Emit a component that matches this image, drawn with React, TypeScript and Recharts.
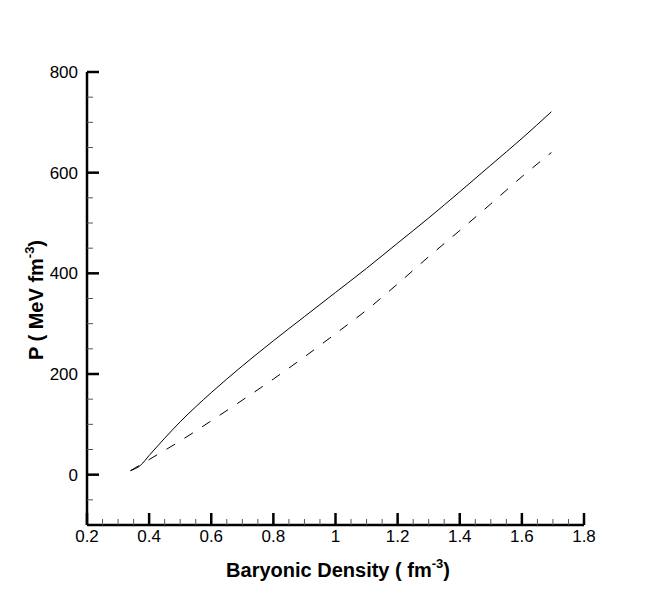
import { Label, Line, LineChart, XAxis, YAxis } from "recharts";

// baryonic density (fm^-3) and pressure (MeV fm^-3)
const density = [0.34, 0.373, 0.4, 0.5, 0.6, 0.7, 0.8, 0.9, 1.0, 1.1, 1.2, 1.3, 1.4, 1.5, 1.6, 1.695];
const pressureSolid = [8, 19, 38, 105, 163, 216, 266, 314, 362, 410, 460, 510, 562, 615, 668, 721];
const pressureDashed = [8, 20, 30, 67, 107, 148, 190, 234, 280, 327, 379, 433, 485, 538, 592, 640];

const xMajor = [0.2, 0.4, 0.6, 0.8, 1, 1.2, 1.4, 1.6, 1.8];
const xMinor = [
  0.25, 0.3, 0.35, 0.45, 0.5, 0.55, 0.65, 0.7, 0.75, 0.85, 0.9, 0.95, 1.05, 1.1, 1.15, 1.25, 1.3, 1.35,
  1.45, 1.5, 1.55, 1.65, 1.7, 1.75,
];
const yMajor = [0, 200, 400, 600, 800];
const yMinor = [-50, 50, 100, 150, 250, 300, 350, 450, 500, 550, 650, 700, 750];

const data = density.map((d, i) => ({ d, solid: pressureSolid[i], dashed: pressureDashed[i] }));

const font = "'Liberation Sans', Arial, Helvetica, sans-serif";

function isMajor(list: number[], v: number) {
  return list.some((m) => Math.abs(m - v) < 1e-6);
}

function XTick({ x, y, payload }: any) {
  const major = isMajor(xMajor, payload.value);
  return (
    <g>
      <line
        x1={x}
        x2={x}
        y1={y}
        y2={y - (major ? 12 : 6)}
        stroke={major ? "#000" : "#555"}
        strokeWidth={major ? 2.5 : 1}
      />
      {major && (
        <text x={x} y={y + 17} textAnchor="middle" fontSize={17} fontFamily={font} fill="#000">
          {payload.value}
        </text>
      )}
    </g>
  );
}

function YTick({ x, y, payload }: any) {
  const major = isMajor(yMajor, payload.value);
  return (
    <g>
      <line
        x1={x}
        x2={x + (major ? 12 : 6)}
        y1={y}
        y2={y}
        stroke={major ? "#000" : "#555"}
        strokeWidth={major ? 2.5 : 1}
      />
      {major && (
        <text x={x - 9} y={y + 6} textAnchor="end" fontSize={17} fontFamily={font} fill="#000">
          {payload.value}
        </text>
      )}
    </g>
  );
}

export default function App() {
  return (
    <div style={{ position: "absolute", left: 0, top: 0, width: 664, height: 591, background: "#fff" }}>
      <LineChart width={664} height={591} data={data} margin={{ top: 72, right: 80, left: 27, bottom: 36 }}>
        <XAxis
          dataKey="d"
          type="number"
          domain={[0.2, 1.8]}
          ticks={[...xMajor, ...xMinor]}
          interval={0}
          height={30}
          tickSize={0}
          tickMargin={0}
          tickLine={false}
          tick={<XTick />}
          axisLine={{ stroke: "#000", strokeWidth: 2.5 }}
        >
          <Label
            content={() => (
              <text x={338} y={577} textAnchor="middle" fontSize={20} fontWeight="bold" fontFamily={font} fill="#000">
                Baryonic Density ( fm
                <tspan fontSize={13} dy={-9}>-3</tspan>
                <tspan dy={9}>)</tspan>
              </text>
            )}
          />
        </XAxis>
        <YAxis
          type="number"
          domain={[-100, 800]}
          ticks={[...yMajor, ...yMinor]}
          interval={0}
          width={60}
          tickSize={0}
          tickMargin={0}
          tickLine={false}
          tick={<YTick />}
          axisLine={{ stroke: "#000", strokeWidth: 2.5 }}
        >
          <Label
            content={() => (
              <text
                x={43}
                y={300}
                transform="rotate(-90 43 300)"
                textAnchor="middle"
                fontSize={20}
                fontWeight="bold"
                fontFamily={font}
                fill="#000"
              >
                P ( MeV fm
                <tspan fontSize={13} dy={-9}>-3</tspan>
                <tspan dy={9}>)</tspan>
              </text>
            )}
          />
        </YAxis>
        <Line
          dataKey="solid"
          type="monotone"
          stroke="#000"
          strokeWidth={1}
          dot={false}
          isAnimationActive={false}
        />
        <Line
          dataKey="dashed"
          type="monotone"
          stroke="#000"
          strokeWidth={1}
          strokeDasharray="10 11"
          dot={false}
          isAnimationActive={false}
        />
      </LineChart>
    </div>
  );
}
